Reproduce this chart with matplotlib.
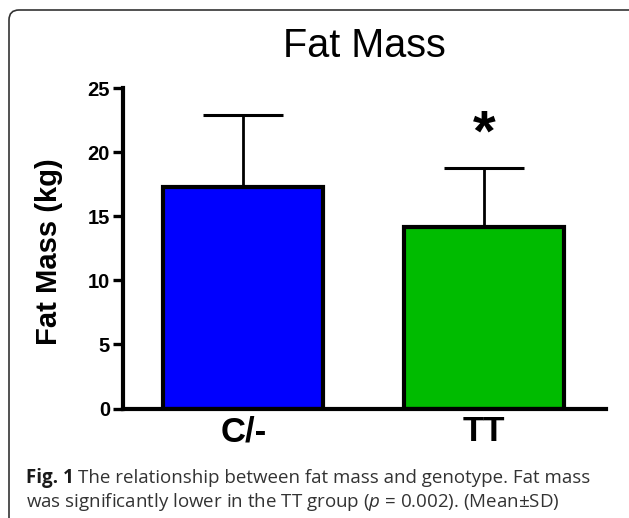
import numpy as np
import matplotlib
matplotlib.use("Agg")
import matplotlib.pyplot as plt
from matplotlib.patches import FancyBboxPatch
from matplotlib.transforms import IdentityTransform

# data
groups = ["C/-", "TT"]
means = [17.3, 14.2]
sds = [5.6, 4.6]
bar_colors = ["#0000FF", "#00BB00"]
yticks = [0, 5, 10, 15, 20, 25]

plt.rcParams['font.family'] = ['Liberation Sans', 'DejaVu Sans']
plt.rcParams['mathtext.fontset'] = 'custom'
plt.rcParams['mathtext.rm'] = 'Open Sans'
plt.rcParams['mathtext.it'] = 'Open Sans:italic'
plt.rcParams['mathtext.bf'] = 'Open Sans:bold'

W, H = 629, 518
fig = plt.figure(figsize=(W/100, H/100), dpi=100)

# rounded frame around the whole figure
frame = FancyBboxPatch((9, -30), 640, 538, boxstyle="round,pad=0,rounding_size=10",
                       transform=IdentityTransform(), fc='none', ec='#333333', lw=1.2)
fig.patches.append(frame)

ax = fig.add_axes([122.5/W, (H-408.5)/H, (606-122.5)/W, 320.2/H])
x = np.arange(len(groups))
ax.bar(x, means, width=0.665, color=bar_colors, edgecolor='black', linewidth=3, zorder=2)
ax.errorbar(x, means, yerr=[np.zeros(len(sds)), sds], fmt='none', ecolor='black',
            elinewidth=2.0, capsize=29, capthick=2.2, zorder=3)

ax.set_xlim(-0.502, 1.507)
ax.set_ylim(0, 25)
ax.set_yticks(yticks)
ax.set_xticks(x)
ax.set_xticklabels(groups, fontsize=25, fontweight='bold')
ax.tick_params(axis='x', length=0, pad=5)
ax.tick_params(axis='y', length=7, width=2.4, pad=2, labelsize=14.5)
for lab in ax.get_yticklabels():
    lab.set_fontweight('bold')
for s in ['top', 'right']:
    ax.spines[s].set_visible(False)
for s in ['left', 'bottom']:
    ax.spines[s].set_linewidth(3)

# significance marker
ax.text(1, 21.3, "*", ha='center', va='center', fontsize=42, fontweight='bold')

fig.text(364/W, 1-56.7/H, "Fat Mass", ha='center', va='baseline', fontsize=28.5)
fig.text(49/W, 1-251.5/H, "Fat Mass (kg)", rotation=90, ha='center', va='center',
         fontsize=21, fontweight='bold')

# caption
cap_fs = 13.5
r = fig.canvas.get_renderer()
t_bold = fig.text(26/W, 1-483.3/H, "Fig. 1", ha='left', va='baseline', fontsize=cap_fs,
                  family='Open Sans', fontweight='bold', color='#1a1a1a')
bw = t_bold.get_window_extent(r).width
fig.text((26 + bw + 4.5)/W, 1-483.3/H,
         "The relationship between fat mass and genotype. Fat mass",
         ha='left', va='baseline', fontsize=cap_fs, family='Open Sans', color='#333333')
cap2 = r"was significantly lower in the TT group ($\mathit{p}$ = 0.002). (Mean±SD)"
fig.text(26/W, 1-507/H, cap2, ha='left', va='baseline', fontsize=cap_fs,
         family='Open Sans', color='#333333')

fig.savefig("out.png", dpi=100)
